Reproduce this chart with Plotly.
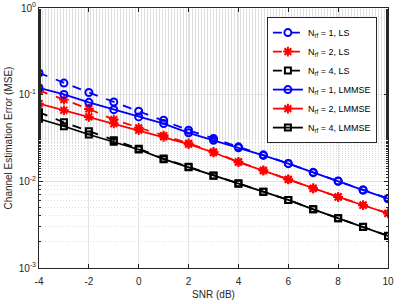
import plotly.graph_objects as go

snr = list(range(-4, 11))

ls_1 = [0.178, 0.136, 0.106, 0.0824, 0.0643, 0.0507, 0.0389, 0.0312, 0.0250, 0.0202, 0.0161, 0.0127, 0.0101, 0.00795, 0.00633]
lmmse_1 = [0.120, 0.1007, 0.0815, 0.0672, 0.0554, 0.0464, 0.0363, 0.0298, 0.0244, 0.0199, 0.0160, 0.0126, 0.0100, 0.00792, 0.00630]
ls_2 = [0.112, 0.0876, 0.0685, 0.0516, 0.0414, 0.0338, 0.0275, 0.0219, 0.0168, 0.0134, 0.01055, 0.0083, 0.0066, 0.0053, 0.00428]
lmmse_2 = [0.0788, 0.0660, 0.0554, 0.0464, 0.0389, 0.0326, 0.0268, 0.0215, 0.0166, 0.0133, 0.0105, 0.0083, 0.0066, 0.0053, 0.00426]
ls_4 = [0.0626, 0.0480, 0.0379, 0.0298, 0.0238, 0.0183, 0.0147, 0.0117, 0.0095, 0.0076, 0.0061, 0.00476, 0.00376, 0.00299, 0.00235]
lmmse_4 = [0.0526, 0.0432, 0.0347, 0.0286, 0.0233, 0.0180, 0.0145, 0.0116, 0.0094, 0.0076, 0.0061, 0.00475, 0.00375, 0.00298, 0.00234]

names = ["N<sub>rf</sub> = 1, LS", "N<sub>rf</sub> = 2, LS", "N<sub>rf</sub> = 4, LS",
         "N<sub>rf</sub> = 1, LMMSE", "N<sub>rf</sub> = 2, LMMSE", "N<sub>rf</sub> = 4, LMMSE"]

ytick_vals = [1e-3, 1e-2, 1e-1, 1]
ytick_text = ["10<sup>-3</sup>", "10<sup>-2</sup>", "10<sup>-1</sup>", "10<sup>0</sup>"]
xtick_vals = [-4, -2, 0, 2, 4, 6, 8, 10]
xtick_text = ["-4", "-2", "0", "2", "4", "6", "8", "10"]

series = [
    (ls_1, names[0], "blue", "dash", "circle-open", 7),
    (ls_2, names[1], "red", "dash", "asterisk-open", 8),
    (ls_4, names[2], "black", "dash", "square-open", 6),
    (lmmse_1, names[3], "blue", "solid", "circle-open", 7),
    (lmmse_2, names[4], "red", "solid", "asterisk-open", 8),
    (lmmse_4, names[5], "black", "solid", "square-open", 6),
]

FONT = "Liberation Sans, Arial, sans-serif"

fig = go.Figure()
for vals, name, col, dash, sym, sz in series:
    fig.add_trace(go.Scatter(
        x=snr, y=vals, name=name, mode="lines+markers",
        line=dict(color=col, width=1.8, dash=dash),
        marker=dict(symbol=sym, size=sz, color=col, line=dict(color=col, width=2)),
    ))

axis_common = dict(
    showline=True, linecolor="#262626", linewidth=1, mirror="ticks",
    ticks="inside", ticklen=4, tickcolor="#262626",
    showgrid=True, gridcolor="#e3e3e3", gridwidth=1,
    zeroline=False, automargin=False,
    tickfont=dict(family=FONT, size=10, color="#262626"),
)

fig.update_xaxes(
    range=[-4, 10], tickvals=xtick_vals, ticktext=xtick_text,
    ticklabelstandoff=4,
    title=dict(text="SNR (dB)", font=dict(family=FONT, size=10, color="#262626"), standoff=4),
    **axis_common,
)
fig.update_yaxes(
    type="log", range=[-3, 0], tickvals=ytick_vals, ticktext=ytick_text,
    minor=dict(showgrid=True, gridcolor="#dedede", griddash="1px,2px",
               ticks="inside", ticklen=2, tickcolor="#262626"),
    title=dict(text="Channel Estimation Error (MSE)", font=dict(family=FONT, size=10, color="#262626"), standoff=4),
    **axis_common,
)

fig.update_layout(
    width=403, height=304,
    margin=dict(l=39, r=15, t=8, b=36),
    paper_bgcolor="white", plot_bgcolor="white",
    showlegend=True,
    legend=dict(
        x=0.653, y=0.965, xanchor="left", yanchor="top",
        bgcolor="white", bordercolor="#262626", borderwidth=1,
        font=dict(family=FONT, size=9, color="black"),
        tracegroupgap=0, itemwidth=30,
    ),
)

fig.write_html("out.html", config={"displayModeBar": False},
               post_script="document.body.style.margin='0';")
